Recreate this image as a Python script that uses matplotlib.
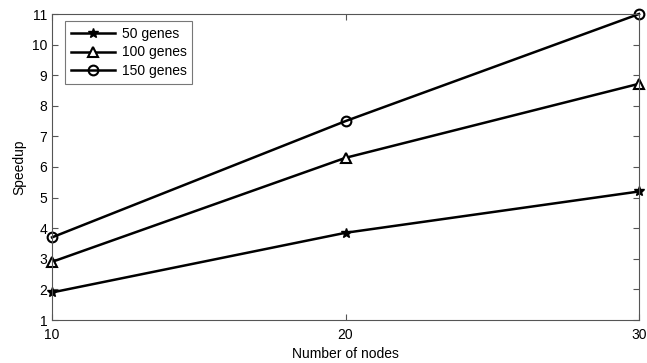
import matplotlib
matplotlib.use("Agg")
import matplotlib.pyplot as plt

plt.rcParams['font.family'] = ['Liberation Sans', 'DejaVu Sans']

nodes = [10, 20, 30]
genes_50 = [1.9, 3.85, 5.2]
genes_100 = [2.9, 6.3, 8.72]
genes_150 = [3.7, 7.5, 11.0]

fig = plt.figure(figsize=(6.47, 3.63), dpi=100)
ax = fig.add_axes([52 / 647, 1 - 320 / 363, (639 - 52) / 647, (320 - 14) / 363])

ax.plot(nodes, genes_50, color='black', lw=1.8, marker='*', ms=7, mfc='black', label='50 genes', clip_on=False)
ax.plot(nodes, genes_100, color='black', lw=1.8, marker='^', ms=7, mfc='white', mew=1.5, label='100 genes', clip_on=False)
ax.plot(nodes, genes_150, color='black', lw=1.8, marker='o', ms=7, mfc='none', mew=1.5, label='150 genes', clip_on=False)

ax.set_xlim(10, 30)
ax.set_ylim(1, 11)
ax.set_xticks(nodes)
ax.set_yticks(range(1, 12))
ax.tick_params(direction='in', top=True, right=True, labelsize=10, length=4, color='#555555')
ax.tick_params(axis='x', pad=6)
for s in ax.spines.values():
    s.set_color('#555555')
ax.set_xlabel('Number of nodes', fontsize=10, labelpad=3)
ax.set_ylabel('Speedup', fontsize=10, labelpad=4)

leg = ax.legend(loc='upper left', bbox_to_anchor=(13 / 587, 1 - 7 / 306), borderaxespad=0,
                fontsize=10, frameon=True, fancybox=False, edgecolor='#555555',
                handlelength=3.2, handletextpad=0.5, labelspacing=0.35, borderpad=0.4)
leg.get_frame().set_linewidth(0.8)

fig.savefig('out.png', dpi=100)
plt.close(fig)
